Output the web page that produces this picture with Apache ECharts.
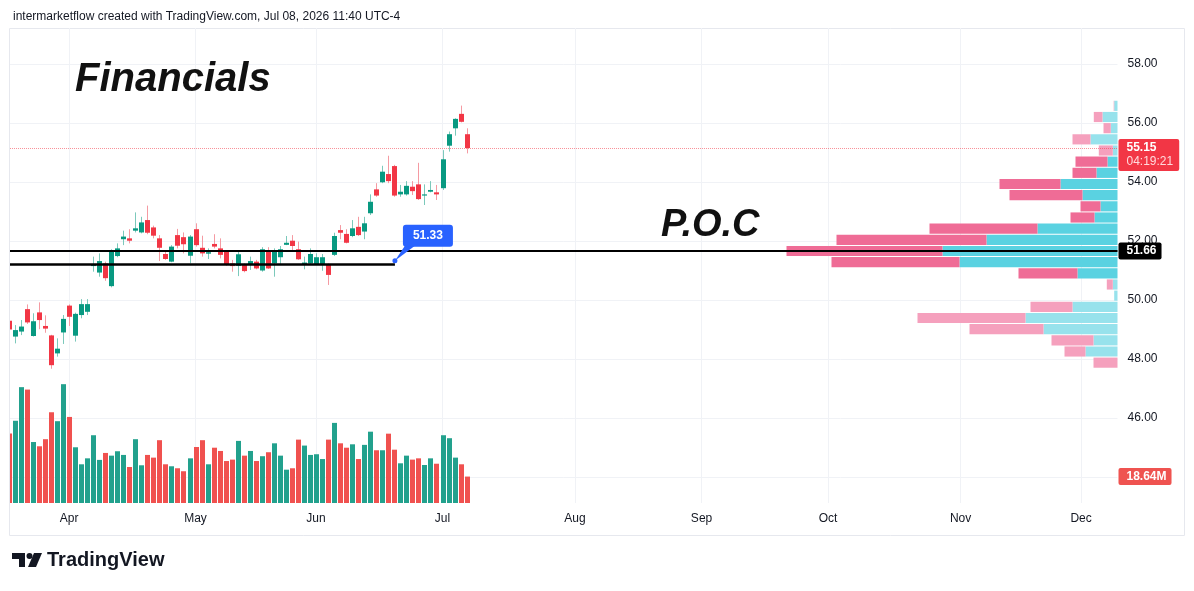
<!DOCTYPE html>
<html>
<head>
<meta charset="utf-8">
<title>Financials</title>
<script src="https://cdn.jsdelivr.net/npm/echarts@6/dist/echarts.min.js"></script>
<style>
  html, body { margin: 0; padding: 0; background: #ffffff; }
  #chart { width: 1194px; height: 591px; }
</style>
</head>
<body>
<div id="chart"></div>
<script>
// daily bars, Mar 18 2026 .. Jul 08 2026
const openP  = [49.30, 48.76, 48.93, 49.69, 48.78, 49.58, 49.12, 48.80, 48.19, 48.90,
                49.81, 48.79, 49.49, 49.60, 51.15, 50.93, 51.24, 50.47, 51.49, 52.06,
                52.09, 52.35, 52.29, 52.71, 52.46, 52.09, 51.56, 51.30, 52.20, 52.13,
                51.50, 52.40, 51.77, 51.57, 51.90, 51.75, 51.64, 51.24, 51.16, 51.19,
                51.22, 51.30, 51.00, 51.64, 51.24, 51.45, 51.87, 52.01, 51.72, 51.19,
                51.24, 51.22, 51.22, 51.19, 51.53, 52.37, 52.24, 52.17, 52.48, 52.32,
                52.94, 53.75, 53.99, 54.27, 54.54, 53.58, 53.58, 53.84, 53.92, 53.54,
                53.67, 53.65, 53.79, 55.23, 55.82, 56.31, 55.62];
const highP  = [49.40, 49.15, 49.32, 49.85, 49.55, 49.92, 49.48, 48.82, 48.70, 49.49,
                49.85, 49.57, 50.03, 50.03, 51.47, 51.58, 51.30, 51.72, 51.92, 52.35,
                52.40, 52.97, 52.82, 53.20, 52.52, 52.20, 51.64, 51.86, 52.41, 52.29,
                52.20, 52.60, 52.18, 51.75, 52.23, 52.09, 51.69, 51.36, 51.66, 51.24,
                51.47, 51.36, 51.79, 51.79, 51.75, 51.83, 52.17, 52.20, 51.98, 51.47,
                51.75, 51.58, 51.56, 51.24, 52.28, 52.54, 52.40, 52.71, 52.82, 52.82,
                53.58, 53.96, 54.55, 54.89, 54.58, 53.90, 54.03, 54.03, 54.65, 53.92,
                54.03, 53.90, 55.08, 55.71, 56.16, 56.59, 55.82];
const lowP   = [48.95, 48.53, 48.81, 49.19, 48.76, 49.01, 48.89, 47.67, 48.08, 48.51,
                49.12, 48.59, 49.38, 49.49, 50.96, 50.79, 50.65, 50.43, 51.45, 51.86,
                51.92, 52.29, 52.26, 52.23, 52.09, 51.32, 51.36, 51.28, 51.75, 51.58,
                51.24, 51.81, 51.47, 51.39, 51.75, 51.41, 51.16, 50.96, 50.81, 50.94,
                51.02, 51.04, 50.96, 51.05, 50.79, 51.22, 51.86, 51.69, 51.36, 51.04,
                51.22, 51.19, 50.99, 50.51, 51.49, 52.06, 51.92, 52.13, 52.17, 52.06,
                52.88, 53.50, 53.96, 53.96, 53.50, 53.50, 53.54, 53.56, 53.39, 53.22,
                53.65, 53.39, 53.73, 55.03, 55.57, 56.02, 54.97];
const closeP = [49.00, 48.98, 49.10, 49.24, 49.28, 49.32, 49.03, 47.79, 48.35, 49.36,
                49.43, 49.53, 49.86, 49.86, 51.21, 51.32, 50.74, 51.64, 51.75, 52.15,
                52.01, 52.43, 52.63, 52.28, 52.18, 51.77, 51.39, 51.81, 51.84, 51.89,
                52.15, 51.86, 51.58, 51.62, 51.81, 51.53, 51.19, 51.15, 51.55, 50.98,
                51.32, 51.07, 51.72, 51.07, 51.64, 51.72, 51.94, 51.83, 51.38, 51.27,
                51.56, 51.45, 51.45, 50.85, 52.17, 52.28, 51.94, 52.43, 52.20, 52.60,
                53.33, 53.54, 54.35, 54.03, 53.54, 53.67, 53.87, 53.69, 53.42, 53.58,
                53.73, 53.58, 54.77, 55.62, 56.14, 56.04, 55.15];
// volume, millions of shares
const volumeM = [49, 58, 81.7, 80, 43, 40, 45, 64, 57.7, 83.8,
                 60.7, 39.3, 27.3, 31.5, 47.8, 30.4, 35.3, 33.4, 36.5, 33.9,
                 25.4, 45, 26.6, 33.9, 32, 44.3, 27.3, 25.9, 24.5, 22.4,
                 31.5, 39.5, 44.3, 27.3, 39, 36.7, 29.6, 30.6, 43.8, 33.4,
                 36.7, 29.6, 33, 35.8, 42.1, 33.4, 23.5, 24.5, 44.7, 40.5,
                 33.9, 34.4, 31, 44.7, 56.5, 42.1, 39, 41.4, 31, 41,
                 50.3, 37.2, 37.2, 48.9, 37.6, 28, 33.4, 30.6, 31.5, 26.8,
                 31.5, 27.7, 47.8, 45.7, 32, 27.3, 18.64];

// visible range volume profile, rows from the lowest price bin up
const profileLow = 47.67;
const profileStep = 0.3785;
const profileUp   = [0, 32, 24, 74, 92, 45, 3.3, 4.7, 40, 158, 175, 131,
                     80, 23, 17, 35, 57, 21, 10, 4.7, 27, 6.7, 15, 3.3];
const profileDown = [24, 21, 42, 74, 108, 42, 0, 6, 59, 128, 156, 150,
                     108, 24, 20, 73, 61, 24, 32, 14, 18, 7.3, 8.7, 0.5];
const valueArea = [8, 18];

const pocPrice = 51.66;
const lastPrice = 55.15;
const lastVolume = 18.64;
const countdown = '04:19:21';
const supportLine = { from: 0.2, to: 64.1, price: 51.2 };
const callout = { at: 64.1, price: 51.33 };

const priceTicks = [44, 58, 2];
const holidays = ['2026-04-03', '2026-05-25', '2026-06-19', '2026-07-03', '2026-09-07', '2026-11-26'];
const monthNames = ['Jan', 'Feb', 'Mar', 'Apr', 'May', 'Jun', 'Jul', 'Aug', 'Sep', 'Oct', 'Nov', 'Dec'];

// trading days incl. the empty future part of the chart
const dates = [];
for (let d = new Date(Date.UTC(2026, 2, 18)); dates.length < 186; d.setUTCDate(d.getUTCDate() + 1)) {
    const s = d.toISOString().slice(0, 10);
    const wd = d.getUTCDay();
    if (wd === 0 || wd === 6 || holidays.includes(s)) continue;
    dates.push(s);
}
const monthStarts = [];
dates.forEach((s, i) => {
    if (i > 0 && s.slice(5, 7) !== dates[i - 1].slice(5, 7)) monthStarts.push(i);
});

const font = 'Liberation Sans, Arial, sans-serif';
const ink = '#131722';
const upColor = '#089981', downColor = '#F23645';
const upWick = '#7cc9bb', downWick = '#f59aa2';
const volUp = '#22a18d', volDown = '#f0514f';

const candleData = openP.map((o, i) => [i, o, highP[i], lowP[i], closeP[i]]);
const volumeData = volumeM.map((v, i) => [i, v, closeP[i] >= openP[i] ? 1 : 0]);
const profileData = profileUp.map((u, i) => [i, u, profileDown[i]]);

function renderCandle(params, api) {
    const k = api.value(0), o = api.value(1), h = api.value(2), l = api.value(3), c = api.value(4);
    const up = c >= o;
    const top = api.coord([k, Math.max(o, c)]);
    const bot = api.coord([k, Math.min(o, c)]);
    const hi = api.coord([k, h]);
    const lo = api.coord([k, l]);
    const x = Math.round(top[0]) + 0.5;
    return {
        type: 'group',
        children: [
            { type: 'line', shape: { x1: x, y1: hi[1], x2: x, y2: lo[1] },
              style: { stroke: up ? upWick : downWick, lineWidth: 1 } },
            { type: 'rect', shape: { x: x - 2.5, y: top[1], width: 5, height: Math.max(1, bot[1] - top[1]) },
              style: { fill: up ? upColor : downColor } }
        ]
    };
}

function renderVolume(params, api) {
    const k = api.value(0);
    const base = api.coord([k, 0]);
    const top = api.coord([k, api.value(1)]);
    const x = Math.round(base[0]) + 0.5;
    return {
        type: 'rect',
        shape: { x: x - 2.5, y: top[1], width: 5, height: base[1] - top[1] },
        style: { fill: api.value(2) ? volUp : volDown }
    };
}

function renderProfile(params, api) {
    const row = api.value(0), up = api.value(1), down = api.value(2);
    const lo = profileLow + row * profileStep;
    const hi = lo + profileStep;
    const strong = row >= valueArea[0] && row <= valueArea[1];
    const a = api.coord([0, hi]);
    const b = api.coord([up, lo]);
    const c = api.coord([up + down, lo]);
    const h = b[1] - a[1] - 1;
    return {
        type: 'group',
        children: [
            { type: 'rect', shape: { x: b[0], y: a[1], width: a[0] - b[0], height: h },
              style: { fill: strong ? '#5ad2e1' : '#97e2ec' } },
            { type: 'rect', shape: { x: c[0], y: a[1], width: b[0] - c[0], height: h },
              style: { fill: strong ? '#ef6c96' : '#f5a0bd' } }
        ]
    };
}

function renderCallout(params, api) {
    const p = api.coord([api.value(0), api.value(1)]);
    const blue = '#2962FF';
    return {
        type: 'group',
        x: p[0], y: p[1],
        children: [
            { type: 'polygon', shape: { points: [[0, 0], [10, -15], [20, -15]] }, style: { fill: blue } },
            { type: 'rect', shape: { x: 8, y: -36, width: 50, height: 22, r: 3 }, style: { fill: blue } },
            { type: 'circle', shape: { cx: 0, cy: 0, r: 2.5 }, style: { fill: blue } },
            { type: 'text', x: 33, y: -25,
              style: { text: api.value(1).toFixed(2), fill: '#fff', font: 'bold 12px ' + font,
                       align: 'center', verticalAlign: 'middle' } }
        ]
    };
}

const axisBox = (bg, text) => ({
    show: true, position: 'end', distance: 1, color: '#fff', fontFamily: font, fontSize: 12,
    fontWeight: 'bold', backgroundColor: bg, padding: [3, 5, 2, 8], borderRadius: 2, formatter: text
});

const chart = echarts.init(document.getElementById('chart'));
chart.setOption({
    animation: false,
    backgroundColor: '#ffffff',
    textStyle: { fontFamily: font },
    title: [
        { text: 'intermarketflow created with TradingView.com, Jul 08, 2026 11:40 UTC-4', left: 8, top: 6,
          textStyle: { fontFamily: font, fontSize: 12, fontWeight: 'normal', color: ink } },
        { text: 'Financials', left: 70, top: 55,
          textStyle: { fontFamily: font, fontSize: 40, fontWeight: 'bold', fontStyle: 'italic', color: '#111' } },
        { text: 'P.O.C', left: 656, top: 202,
          textStyle: { fontFamily: font, fontSize: 38, fontWeight: 'bold', fontStyle: 'italic', color: '#111' } }
    ],
    graphic: [
        { type: 'rect', shape: { x: 9.5, y: 28.5, width: 1175, height: 507 }, silent: true,
          style: { fill: 'none', stroke: '#e6e8ee', lineWidth: 1 }, z: -10 },
        { type: 'group', left: 12, top: 553, children: [
            { type: 'polygon', shape: { points: [[0, 0], [13, 0], [13, 14], [7, 14], [7, 6], [0, 6]] }, style: { fill: ink } },
            { type: 'circle', shape: { cx: 17.5, cy: 3, r: 3 }, style: { fill: ink } },
            { type: 'polygon', shape: { points: [[22, 0], [30, 0], [24, 14], [16, 14]] }, style: { fill: ink } }
        ] },
        { type: 'text', left: 47, top: 550,
          style: { text: 'TradingView', fill: ink, font: 'bold 20px ' + font } }
    ],
    grid: [
        { left: 10, right: 76.5, top: 64, bottom: 114 },
        { left: 10, right: 76.5, top: 28, bottom: 88 }
    ],
    xAxis: [
        { gridIndex: 0, type: 'value', min: 0.2, max: 184.05, show: false },
        { gridIndex: 0, type: 'value', inverse: true, min: 0, max: 1107.5, show: false },
        { gridIndex: 1, type: 'value', min: 0.2, max: 184.05,
          axisLine: { show: false }, axisTick: { show: false }, splitLine: { show: false },
          axisLabel: { customValues: monthStarts, margin: 10, color: ink, fontSize: 12, fontFamily: font,
                       formatter: (v) => monthNames[+dates[Math.round(v)].slice(5, 7) - 1] } }
    ],
    yAxis: [
        { gridIndex: 0, type: 'value', min: priceTicks[0], max: priceTicks[1], interval: priceTicks[2], position: 'right',
          axisLine: { show: false }, axisTick: { show: false },
          splitLine: { lineStyle: { color: '#f0f2f6', width: 1 } },
          axisLabel: { margin: 10, color: ink, fontSize: 12, fontFamily: font, showMaxLabel: true,
                       formatter: (v) => v <= 44 ? '' : v.toFixed(2) } },
        { gridIndex: 1, type: 'value', min: 0, max: 335, show: false }
    ],
    series: [
        {
            name: 'Volume', type: 'custom', xAxisIndex: 2, yAxisIndex: 1, clip: true,
            renderItem: renderVolume, data: volumeData, z: 2,
            markLine: {
                silent: true, symbol: ['none', 'none'], z: 1,
                data: [
                    ...monthStarts.map(i => ({ xAxis: i, lineStyle: { color: '#f0f2f6', width: 1, type: 'solid' }, label: { show: false } })),
                    { yAxis: lastVolume, lineStyle: { color: 'rgba(0,0,0,0)', width: 1 },
                      label: axisBox('#EF5350', lastVolume.toFixed(2) + 'M') }
                ]
            }
        },
        {
            name: 'Profile', type: 'custom', xAxisIndex: 1, yAxisIndex: 0, clip: true,
            renderItem: renderProfile, data: profileData, z: 3
        },
        {
            name: 'XLF', type: 'custom', xAxisIndex: 0, yAxisIndex: 0, clip: true,
            renderItem: renderCandle, data: candleData, z: 4,
            markLine: {
                silent: true, symbol: ['none', 'none'],
                data: [
                    { yAxis: lastPrice, lineStyle: { color: 'rgba(242,54,69,0.55)', type: 'dotted', width: 1 },
                      label: { show: true, position: 'end', distance: 1, offset: [0, 7],
                               formatter: '{p|' + lastPrice.toFixed(2) + '}\n{t|' + countdown + '}',
                               backgroundColor: '#F23645', padding: [2, 6, 2, 8], borderRadius: 2,
                               rich: { p: { color: '#fff', fontSize: 12, fontWeight: 'bold', fontFamily: font, lineHeight: 14 },
                                       t: { color: '#ffd9dc', fontSize: 12, fontFamily: font, lineHeight: 14 } } } },
                    [{ coord: [supportLine.from, supportLine.price], lineStyle: { color: '#000', width: 2.5, type: 'solid' }, label: { show: false } },
                     { coord: [supportLine.to, supportLine.price] }],
                    { yAxis: pocPrice, lineStyle: { color: '#000', width: 2.2, type: 'solid' },
                      label: axisBox('#000', pocPrice.toFixed(2)) }
                ]
            }
        },
        {
            name: 'Callout', type: 'custom', xAxisIndex: 0, yAxisIndex: 0, clip: false,
            renderItem: renderCallout, data: [[callout.at, callout.price]], z: 6
        }
    ]
});
</script>
</body>
</html>
